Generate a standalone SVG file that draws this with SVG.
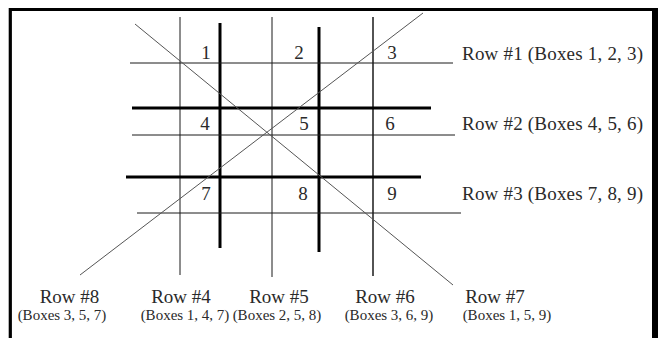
<svg xmlns="http://www.w3.org/2000/svg" width="658" height="338" viewBox="0 0 658 338">
<style>
.thin{stroke:#1a1a1a;stroke-width:1;fill:none}
.thick{stroke:#000;stroke-width:3;fill:none}
.diag{stroke:#555;stroke-width:1;fill:none}
.num{font-family:"Liberation Serif",serif;font-size:19px;fill:#2a2a2a;text-anchor:middle}
.lbl{font-family:"Liberation Serif",serif;font-size:19px;fill:#2a2a2a}
.lblc{font-family:"Liberation Serif",serif;font-size:19px;fill:#2a2a2a;text-anchor:middle}
.sub{font-family:"Liberation Serif",serif;font-size:15px;fill:#2a2a2a;text-anchor:middle}
</style>
<rect x="0" y="0" width="658" height="338" fill="#fff"/>
<g id="frame">
<path d="M10.3,338 V9.5 H652" stroke="#000" stroke-width="3.2" fill="none"/>
<rect x="652" y="8" width="6" height="330" fill="#000"/>
</g>
<g id="connectors">
<line class="thin" x1="180" y1="17" x2="180" y2="275"/>
<line class="thin" x1="272" y1="17" x2="272" y2="277"/>
<line class="thin" x1="373" y1="17" x2="373" y2="276" style="stroke-width:1.5"/>
<line class="thick" x1="220" y1="23" x2="220" y2="248"/>
<line class="thick" x1="319" y1="27" x2="319" y2="252"/>
<line class="thin" x1="130" y1="63" x2="453" y2="63"/>
<line class="thick" x1="132" y1="108" x2="431" y2="108"/>
<line class="thin" x1="132" y1="135" x2="455" y2="135"/>
<line class="thick" x1="126" y1="177" x2="421" y2="177"/>
<line class="thin" x1="137" y1="213" x2="461" y2="213"/>
<line class="diag" x1="135" y1="24" x2="453" y2="285"/>
<line class="diag" x1="423" y1="13" x2="80" y2="275"/>
</g>
<g id="boxes">
<text class="num" x="206" y="59">1</text>
<text class="num" x="299" y="59">2</text>
<text class="num" x="392" y="59">3</text>
<text class="num" x="205" y="130">4</text>
<text class="num" x="304" y="130">5</text>
<text class="num" x="390" y="130">6</text>
<text class="num" x="206" y="200">7</text>
<text class="num" x="303" y="200">8</text>
<text class="num" x="392" y="200">9</text>
</g>
<g id="row1"><text class="lbl" x="462" y="60" textLength="181">Row #1 (Boxes 1, 2, 3)</text></g>
<g id="row2"><text class="lbl" x="462" y="130" textLength="181">Row #2 (Boxes 4, 5, 6)</text></g>
<g id="row3"><text class="lbl" x="462" y="200" textLength="181">Row #3 (Boxes 7, 8, 9)</text></g>
<g id="row8"><text class="lblc" x="69.5" y="303">Row #8</text><text class="sub" x="62" y="320">(Boxes 3, 5, 7)</text></g>
<g id="row4"><text class="lblc" x="181" y="303">Row #4</text><text class="sub" x="185" y="320">(Boxes 1, 4, 7)</text></g>
<g id="row5"><text class="lblc" x="279" y="303">Row #5</text><text class="sub" x="277" y="320">(Boxes 2, 5, 8)</text></g>
<g id="row6"><text class="lblc" x="385" y="303">Row #6</text><text class="sub" x="389" y="320">(Boxes 3, 6, 9)</text></g>
<g id="row7"><text class="lblc" x="495" y="303">Row #7</text><text class="sub" x="507" y="320">(Boxes 1, 5, 9)</text></g>
</svg>
